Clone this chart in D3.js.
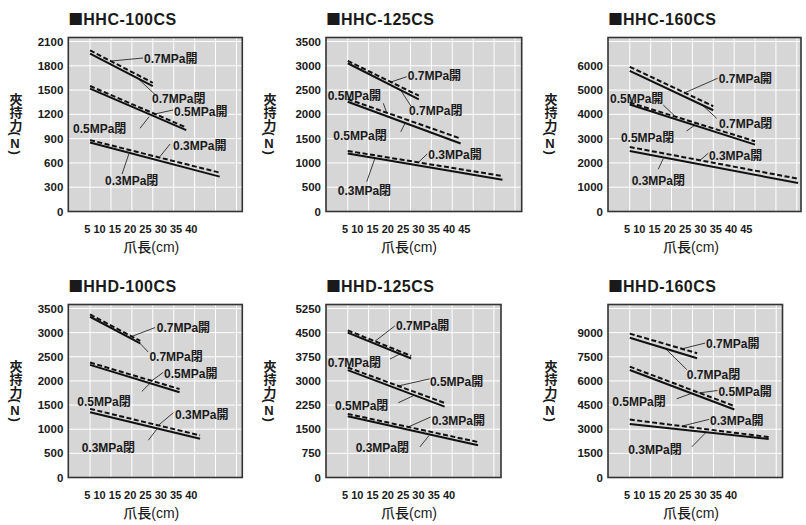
<!DOCTYPE html>
<html><head><meta charset="utf-8">
<script src="https://cdn.jsdelivr.net/npm/d3@7/dist/d3.min.js"></script>
<style>
html,body{margin:0;padding:0;background:#fff;}
svg{display:block;}
text{font-family:"Liberation Sans",Arial,"Noto Sans CJK TC",sans-serif;fill:#1a1a1a;}
</style></head><body>
<svg id="chart" width="806" height="525"></svg>
<script>
// ---------------- data ----------------
const titles = ["■HHC-100CS","■HHC-125CS","■HHC-160CS","■HHD-100CS","■HHD-125CS","■HHD-160CS"];
const xAxisTitle = "爪長(cm)";
const yAxisTitle = ["夾持力(", "N", ")"];
const xLabels40 = ["5","10","15","20","25","30","35","40"];
const xLabels45 = ["5","10","15","20","25","30","35","40","45"];
const yTicksHHC100 = [0,300,600,900,1200,1500,1800,2100];
const yTicksHHC125 = [0,500,1000,1500,2000,2500,3000,3500];
const yTicksHHC160 = [0,1000,2000,3000,4000,5000,6000];
const yTicksHHD100 = [0,500,1000,1500,2000,2500,3000,3500];
const yTicksHHD125 = [0,750,1500,2250,3000,3750,4500,5250];
const yTicksHHD160 = [0,1500,3000,4500,6000,7500,9000];
const xDomainMax = [41.4, 46.6, 46.0, 41.4, 41.7, 41.5];
const pressures = ["0.3MPa","0.5MPa","0.7MPa"];
const states = ["開","閉"];          // 開 = dashed, 閉 = solid
const startLength = 5;

// end length (cm) for 0.3 / 0.5 / 0.7 MPa ; values [start N, end N]
const endHHC100 = [36, 28, 20];
const openHHC100  = [[882,480],[1550,1038],[1990,1590]];
const closeHHC100 = [[853,431],[1518,1005],[1950,1550]];

const endHHC125 = [42, 32, 22];
const openHHC125  = [[1247,730],[2315,1502],[3100,2384]];
const closeHHC125 = [[1192,655],[2260,1399],[3052,2308]];

const endHHC160 = [45.3, 35, 25];
const openHHC160  = [[2656,1349],[4486,2890],[5959,4335]];
const closeHHC160 = [[2491,1170],[4403,2752],[5793,4170]];

const endHHD100 = [31.3, 26.4, 17];
const openHHD100  = [[1421,872],[2381,1832],[3377,2828]];
const closeHHD100 = [[1352,803],[2333,1764],[3329,2780]];

const endHHD125 = [36.2, 28.2, 20.2];
const openHHD125  = [[1977,1101],[3418,2316],[4571,3778]];
const closeHHD125 = [[1904,999],[3335,2203],[4499,3696]];

const endHHD160 = [38.2, 30, 21.1];
const openHHD160  = [[3600,2512],[6886,4437],[8937,7723]];
const closeHHD160 = [[3328,2386],[6677,4228],[8686,7409]];

// annotations: [pressure idx, state idx, leader x1,y1, x2,y2, text x,y]  (data units)
const notesHHC100 = [
  [2,0, 10.25,1860, 17.67,1896, 17.91,1884],
  [2,1, 16.71,1630, 20.54,1445, 19.82,1393],
  [1,0, 20.54,1205, 24.85,1254, 25.09,1229],
  [1,1, 19.1,1170, 16.95,1028, 0.92,1019],
  [0,0, 21.75,680, 24.14,834, 24.85,809],
  [0,1, 14.3,715, 12.65,463, 8.58,377]
];
const notesHHC125 = [
  [2,0, 15.11,2660, 19.1,2775, 19.35,2790],
  [2,1, 17.5,2520, 20.2,2158, 19.66,2069],
  [1,0, 14.3,2040, 13.5,2228, 0.2,2384],
  [1,1, 17.67,1640, 18.7,1816, 1.55,1561],
  [0,0, 21.9,1013, 24.0,1184, 24.27,1163],
  [0,1, 11.5,1095, 9.54,614, 2.6,428]
];
const notesHHC160 = [
  [2,0, 18.05,4880, 26.04,5485, 26.3,5485],
  [2,1, 22.6,4350, 25.8,3838, 26.36,3603],
  [1,0, 13.03,4385, 15.66,3950, 0.28,4632],
  [1,1, 18.6,3315, 20.54,3550, 2.9,3055],
  [0,0, 21.8,2105, 23.8,2396, 23.96,2298],
  [0,1, 11.83,1738, 13.03,2180, 5.47,1256]
];
const notesHHD100 = [
  [2,0, 14.97,2921, 20.54,3105, 20.95,3105],
  [2,1, 16.79,2790, 18.9,2600, 19.2,2508],
  [1,0, 19.75,2003, 22.5,2178, 22.7,2158],
  [1,1, 17.36,1781, 19.35,1952, 1.95,1575],
  [0,0, 21.33,1080, 24.92,1342, 25.33,1307],
  [0,1, 18.94,772, 20.95,1000, 3.0,614]
];
const notesHHD125 = [
  [2,0, 11.52,4231, 16.3,4710, 16.55,4731],
  [2,1, 15.11,3681, 17.5,3835, 0.2,3576],
  [1,0, 17.1,2843, 24.6,3063, 24.68,2989],
  [1,1, 17.1,2322, 20.7,2540, 1.95,2239],
  [0,0, 19.49,1570, 24.85,1878, 25.09,1776],
  [0,1, 22.29,951, 24.44,1300, 6.9,920]
];
const notesHHD160 = [
  [2,0, 17.43,7990, 23.0,8351, 23.24,8289],
  [2,1, 13.6,7990, 18.63,6702, 18.63,6393],
  [1,0, 21.4,5250, 25.95,5404, 26.19,5343],
  [1,1, 16.24,4892, 19.8,5230, 0.83,4725],
  [0,0, 17.43,3190, 23.96,3613, 24.2,3551],
  [0,1, 19.82,1902, 23.17,2790, 4.66,1742]
];

// ---------------- layout ----------------
const boxes = [
  {l:68.3, r:242.3, t:37.5, b:211.5, yt:15},
  {l:326,  r:521.7, t:37.5, b:211.5, yt:269},
  {l:608,  r:801,   t:37.5, b:211.5, yt:550},
  {l:68.3, r:242.3, t:304.5, b:477.5, yt:15},
  {l:326,  r:501,   t:304.5, b:477.5, yt:269},
  {l:608,  r:782.5, t:304.5, b:477.5, yt:550}
];

const panels = [
  {yTicks:yTicksHHC100, xLabels:xLabels40, end:endHHC100, open:openHHC100, close:closeHHC100, notes:notesHHC100},
  {yTicks:yTicksHHC125, xLabels:xLabels45, end:endHHC125, open:openHHC125, close:closeHHC125, notes:notesHHC125},
  {yTicks:yTicksHHC160, xLabels:xLabels45, end:endHHC160, open:openHHC160, close:closeHHC160, notes:notesHHC160},
  {yTicks:yTicksHHD100, xLabels:xLabels40, end:endHHD100, open:openHHD100, close:closeHHD100, notes:notesHHD100},
  {yTicks:yTicksHHD125, xLabels:xLabels40, end:endHHD125, open:openHHD125, close:closeHHD125, notes:notesHHD125},
  {yTicks:yTicksHHD160, xLabels:xLabels40, end:endHHD160, open:openHHD160, close:closeHHD160, notes:notesHHD160}
];

const svg = d3.select("#chart");

panels.forEach((p, i) => {
  const bx = boxes[i];
  const step = p.yTicks[1];
  const x = d3.scaleLinear().domain([-0.2, xDomainMax[i]]).range([bx.l, bx.r]);
  const y = d3.scaleLinear().domain([0, 7 * step]).range([bx.b, bx.t + 4]);
  const g = svg.append("g");

  // title
  const tt = g.append("text").attr("x", bx.l).attr("y", bx.t - 12.5)
    .style("font-size", "16px").style("font-weight", "bold");
  tt.append("tspan").style("font-family", "'Noto Sans CJK JP'").style("font-size", "15px")
    .text(titles[i].slice(0, 1));
  tt.append("tspan").style("letter-spacing", "0.5px").text(titles[i].slice(1));

  // plot background
  g.append("rect").attr("x", bx.l).attr("y", bx.t).attr("width", bx.r - bx.l).attr("height", bx.b - bx.t)
    .attr("fill", "#d6d6d6");

  // grid
  const hGrid = d3.range(step, 7 * step + 1, step);
  g.selectAll(".hg").data(hGrid).join("line")
    .attr("x1", bx.l).attr("x2", bx.r).attr("y1", d => y(d)).attr("y2", d => y(d))
    .attr("stroke", "#fff").attr("stroke-width", 1);
  const vGrid = d3.range(5, xDomainMax[i], 5);
  g.selectAll(".vg").data(vGrid).join("line")
    .attr("y1", bx.t).attr("y2", bx.b).attr("x1", d => x(d)).attr("x2", d => x(d))
    .attr("stroke", "#fff").attr("stroke-width", 1);

  // border
  g.append("rect").attr("x", bx.l).attr("y", bx.t).attr("width", bx.r - bx.l).attr("height", bx.b - bx.t)
    .attr("fill", "none").attr("stroke", "#333").attr("stroke-width", 1.6);

  // y tick labels
  g.selectAll(".yl").data(p.yTicks).join("text")
    .attr("x", bx.l - 5).attr("y", d => y(d)).attr("dy", "0.36em")
    .attr("text-anchor", "end").style("font-size", "11.5px").style("font-weight", "bold")
    .text(d => d);

  // x tick labels (compressed row, as printed)
  g.append("text").attr("x", bx.l + 16).attr("y", bx.b + 21)
    .style("font-size", "11px").style("font-weight", "bold")
    .text(p.xLabels.join(" "));

  // x title
  g.append("text").attr("x", bx.l + 55).attr("y", bx.b + 40)
    .style("font-size", "14px").style("font-weight", "500").text(xAxisTitle);

  // y title (vertical)
  const yt = g.append("text").attr("x", bx.yt).attr("y", bx.t + 55)
    .style("writing-mode", "vertical-rl").style("text-orientation", "mixed")
    .style("font-size", "13px").style("font-weight", "bold");
  yt.append("tspan").text(yAxisTitle[0]);
  yt.append("tspan").style("text-orientation", "upright").text(yAxisTitle[1]);
  yt.append("tspan").text(yAxisTitle[2]);

  // series lines
  const line = d3.line().x(d => x(d[0])).y(d => y(d[1]));
  const series = [];
  p.end.forEach((e, k) => {
    series.push({pts: [[startLength, p.open[k][0]], [e, p.open[k][1]]], dashed: true});
    series.push({pts: [[startLength, p.close[k][0]], [e, p.close[k][1]]], dashed: false});
  });
  g.selectAll(".s").data(series).join("path")
    .attr("d", d => line(d.pts)).attr("fill", "none").attr("stroke", "#111")
    .attr("stroke-width", 2).attr("stroke-dasharray", d => d.dashed ? "5,2.5" : null);

  // annotations
  g.selectAll(".ld").data(p.notes).join("line")
    .attr("x1", d => x(d[2])).attr("y1", d => y(d[3]))
    .attr("x2", d => x(d[4])).attr("y2", d => y(d[5]))
    .attr("stroke", "#111").attr("stroke-width", 0.8);
  g.selectAll(".lt").data(p.notes).join("text")
    .attr("x", d => x(d[6])).attr("y", d => y(d[7])).attr("dy", "0.36em")
    .style("font-size", "12px").style("font-weight", "bold")
    .text(d => pressures[d[0]] + states[d[1]]);
});
</script>
</body></html>
